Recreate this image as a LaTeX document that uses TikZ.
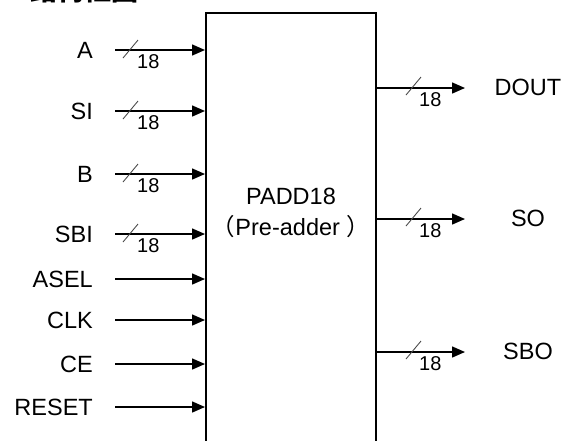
\documentclass[tikz,border=0pt]{standalone}
\usepackage{fontspec}
\setmainfont{Liberation Sans}
\newfontfamily\cjk{Noto Sans CJK SC}
\usetikzlibrary{arrows.meta}
\tikzset{
  sig/.style={font=\fontsize{23.5}{23.5}\selectfont, inner sep=0pt},
  wire/.style={line width=1.5pt, -{Triangle[length=13pt,width=11pt]}},
  tick/.style={line width=0.9pt, black!70},
  bw/.style={font=\fontsize{20}{20}\selectfont, inner sep=0pt, anchor=north west},
}
\begin{document}
\begin{tikzpicture}[x=1pt,y=-1pt]
    \useasboundingbox (0,0) rectangle (562,440);
    \clip (0,0) rectangle (562,440);
    % clipped heading
    \node[font=\cjk\bfseries\fontsize{27}{27}\selectfont, anchor=base west, inner sep=0pt] (title) at (30,0) {结构框图};
    % block
    \node[draw, line width=1.5pt, minimum width=170pt, minimum height=448pt, anchor=north west, inner sep=0pt] (blk) at (205,12) {};
    \node[sig] (name) at (291,196) {PADD18};
    \node[sig] (desc) at (291,227) {{\cjk （}Pre-adder {\cjk ）}};
    % inputs
    \node[sig, anchor=east] (a) at (93,50) {A};
    \node[sig, anchor=east] (si) at (93,111) {SI};
    \node[sig, anchor=east] (b) at (93,174) {B};
    \node[sig, anchor=east] (sbi) at (93,234) {SBI};
    \node[sig, anchor=east] (asel) at (93,279) {ASEL};
    \node[sig, anchor=east] (clk) at (93,320) {CLK};
    \node[sig, anchor=east] (ce) at (93,364) {CE};
    \node[sig, anchor=east] (reset) at (93,407) {RESET};
    \draw[wire] ([xshift=22pt]a.east) -- (blk.west |- a);
    \draw[wire] ([xshift=22pt]si.east) -- (blk.west |- si);
    \draw[wire] ([xshift=22pt]b.east) -- (blk.west |- b);
    \draw[wire] ([xshift=22pt]sbi.east) -- (blk.west |- sbi);
    \draw[wire] ([xshift=22pt]asel.east) -- (blk.west |- asel);
    \draw[wire] ([xshift=22pt]clk.east) -- (blk.west |- clk);
    \draw[wire] ([xshift=22pt]ce.east) -- (blk.west |- ce);
    \draw[wire] ([xshift=22pt]reset.east) -- (blk.west |- reset);
    % bus widths in
    \draw[tick] ([shift={(30,8)}]a.east) -- ([shift={(45,-10)}]a.east);
    \node[bw] (wa) at ([shift={(44,4)}]a.east) {18};
    \draw[tick] ([shift={(30,8)}]si.east) -- ([shift={(45,-10)}]si.east);
    \node[bw] (wsi) at ([shift={(44,4)}]si.east) {18};
    \draw[tick] ([shift={(30,8)}]b.east) -- ([shift={(45,-10)}]b.east);
    \node[bw] (wb) at ([shift={(44,4)}]b.east) {18};
    \draw[tick] ([shift={(30,8)}]sbi.east) -- ([shift={(45,-10)}]sbi.east);
    \node[bw] (wsbi) at ([shift={(44,4)}]sbi.east) {18};
    % outputs
    \coordinate (qd) at (465,88);
    \coordinate (qs) at (465,219);
    \coordinate (qsb) at (465,352);
    \draw[wire] (blk.east |- qd) -- (qd);
    \draw[wire] (blk.east |- qs) -- (qs);
    \draw[wire] (blk.east |- qsb) -- (qsb);
    \node[sig] (dout) at (528,87) {DOUT};
    \node[sig] (so) at (528,218) {SO};
    \node[sig] (sbo) at (528,351) {SBO};
    % bus widths out
    \draw[tick] ([shift={(-59,7)}]qd) -- ([shift={(-44,-11)}]qd);
    \node[bw] (wd) at ([shift={(-46,4)}]qd) {18};
    \draw[tick] ([shift={(-59,7)}]qs) -- ([shift={(-44,-11)}]qs);
    \node[bw] (ws) at ([shift={(-46,4)}]qs) {18};
    \draw[tick] ([shift={(-59,7)}]qsb) -- ([shift={(-44,-11)}]qsb);
    \node[bw] (wsb) at ([shift={(-46,4)}]qsb) {18};
\end{tikzpicture}
\end{document}
